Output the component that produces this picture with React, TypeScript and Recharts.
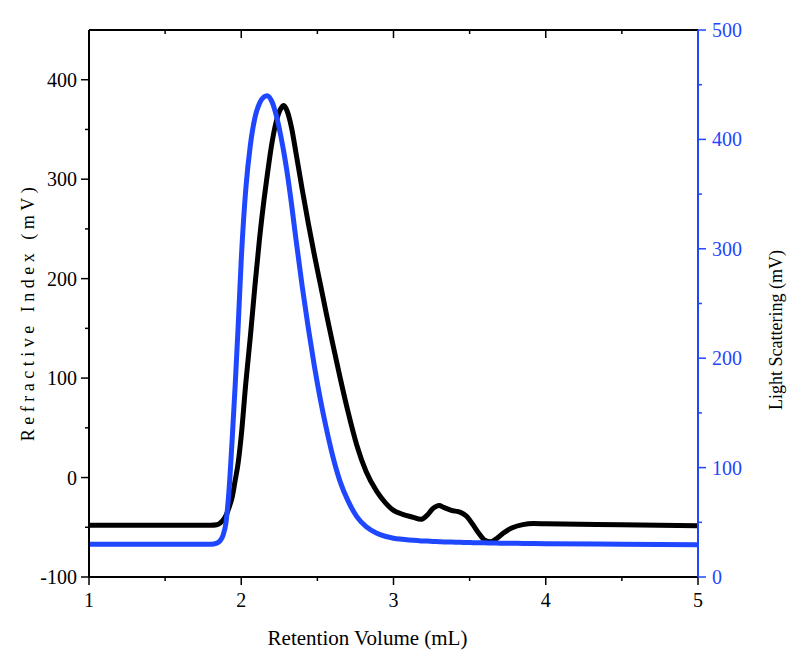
import React from "react";
import { LineChart, Line, XAxis, YAxis, Label } from "recharts";

const volume = [1.0, 1.5, 1.8, 1.84, 1.86, 1.88, 1.9, 1.92, 1.94, 1.96, 1.98, 2.0, 2.03, 2.06, 2.09, 2.12, 2.15, 2.17, 2.2, 2.23, 2.26, 2.28, 2.3, 2.33, 2.36, 2.4, 2.44, 2.48, 2.52, 2.56, 2.6, 2.65, 2.7, 2.76, 2.82, 2.89, 2.95, 3.0, 3.06, 3.13, 3.18, 3.22, 3.26, 3.3, 3.33, 3.38, 3.44, 3.48, 3.52, 3.56, 3.6, 3.64, 3.68, 3.72, 3.78, 3.85, 3.92, 4.0, 4.5, 5.0];

const refractiveIndex = [-48, -48, -48, -47.5, -46, -43, -38, -30, -20, -3, 15, 42, 95, 142, 193, 240, 280, 303, 335, 358, 371, 374, 369, 352, 326, 290, 256, 224, 194, 164, 135, 100, 67, 32, 6, -14, -26, -33, -37, -40, -42, -38, -31, -28, -30, -33, -35, -39, -47, -56, -63, -64.5, -61, -56, -50.5, -47.3, -46.3, -46.5, -47.5, -48.5];

const lightScattering = [30, 30, 30, 31, 33, 38, 50, 80, 125, 175, 230, 290, 355, 395, 420, 433, 439, 440, 435, 422, 403, 388, 371, 341, 308, 266, 228, 193, 162, 135, 111, 87, 70, 55, 46, 40, 37, 35.5, 34.5, 33.5, 33, 32.8, 32.5, 32.3, 32.1, 31.9, 31.7, 31.5, 31.4, 31.3, 31.2, 31.1, 31, 30.9, 30.8, 30.7, 30.6, 30.5, 30, 29.5];

const xTicks = [1, 1.5, 2, 2.5, 3, 3.5, 4, 4.5, 5];
const riTicks = [-100, -50, 0, 50, 100, 150, 200, 250, 300, 350, 400];
const lsTicks = [0, 50, 100, 150, 200, 250, 300, 350, 400, 450, 500];

const data = volume.map((v, i) => ({ v, ri: refractiveIndex[i], ls: lightScattering[i] }));

const BLUE = "#1F47FF";
const FONT = "'Liberation Serif', 'Times New Roman', Times, serif";
const txt = (size: number, extra: any = {}) => ({ fontFamily: FONT, fontSize: size, ...extra });

const BottomTick = (props: any) => {
  const { x, y, payload } = props;
  const major = Number.isInteger(payload.value);
  return (
    <g>
      <line x1={x} y1={y} x2={x} y2={y + (major ? 8 : 4)} stroke="#000" strokeWidth={1.5} />
      {major && (
        <text x={x} y={y + 30} textAnchor="middle" style={txt(20)} fill="#000">
          {payload.value}
        </text>
      )}
    </g>
  );
};

const TopTick = (props: any) => {
  const { x, y, payload } = props;
  const major = Number.isInteger(payload.value);
  if (payload.value === 1 || payload.value === 5) return <g />;
  return <line x1={x} y1={y} x2={x} y2={y + (major ? 8 : 4)} stroke="#000" strokeWidth={1.5} />;
};

const LeftTick = (props: any) => {
  const { x, y, payload } = props;
  const major = payload.value % 100 === 0;
  return (
    <g>
      <line x1={x} y1={y} x2={x - (major ? 8 : 4)} y2={y} stroke="#000" strokeWidth={1.5} />
      {major && (
        <text x={x - 12} y={y + 7} textAnchor="end" style={txt(20)} fill="#000">
          {payload.value}
        </text>
      )}
    </g>
  );
};

const RightTick = (props: any) => {
  const { x, y, payload } = props;
  const major = payload.value % 100 === 0;
  return (
    <g>
      <line x1={x} y1={y} x2={x + (major ? 8 : 4)} y2={y} stroke={BLUE} strokeWidth={1.5} />
      {major && (
        <text x={x + 14} y={y + 7} textAnchor="start" style={txt(20)} fill={BLUE}>
          {payload.value}
        </text>
      )}
    </g>
  );
};

export default function App() {
  return (
    <div style={{ position: "absolute", left: 0, top: 0, width: 805, height: 662, background: "#fff", fontFamily: FONT }}>
      <LineChart width={805} height={662} data={data} margin={{ top: 29, right: 47, left: 29, bottom: 25 }} style={{ fontFamily: FONT }}>
        <XAxis
          xAxisId="bottom"
          dataKey="v"
          type="number"
          domain={[1, 5]}
          ticks={xTicks}
          interval={0}
          height={60}
          tickSize={0}
          tickMargin={0}
          tickLine={false}
          tick={<BottomTick />}
          axisLine={{ stroke: "#000", strokeWidth: 2 }}
        >
          <Label
            content={(p: any) => {
              const vb = p.viewBox;
              return (
                <text x={vb.x + vb.width / 2 - 26} y={vb.y + 68} textAnchor="middle" style={txt(21)} fill="#000">
                  Retention Volume (mL)
                </text>
              );
            }}
          />
        </XAxis>
        <XAxis
          xAxisId="top"
          orientation="top"
          dataKey="v"
          type="number"
          domain={[1, 5]}
          ticks={xTicks}
          interval={0}
          height={1}
          tickSize={0}
          tickMargin={0}
          tickLine={false}
          tick={<TopTick />}
          axisLine={{ stroke: "#000", strokeWidth: 2 }}
        />
        <YAxis
          yAxisId="left"
          type="number"
          domain={[-100, 450]}
          ticks={riTicks}
          interval={0}
          width={60}
          tickSize={0}
          tickMargin={0}
          tickLine={false}
          tick={<LeftTick />}
          axisLine={{ stroke: "#000", strokeWidth: 2 }}
          allowDataOverflow
        >
          <Label
            content={() => (
              <text
                x={0}
                y={0}
                transform="translate(34 312) rotate(-90)"
                textAnchor="middle"
                style={txt(18, { letterSpacing: "4.5px" })}
                fill="#000"
              >
                Refractive Index (mV)
              </text>
            )}
          />
        </YAxis>
        <YAxis
          yAxisId="right"
          orientation="right"
          type="number"
          domain={[0, 500]}
          ticks={lsTicks}
          interval={0}
          width={60}
          tickSize={0}
          tickMargin={0}
          tickLine={false}
          tick={<RightTick />}
          axisLine={{ stroke: BLUE, strokeWidth: 2 }}
          allowDataOverflow
        >
          <Label
            content={() => (
              <text
                x={0}
                y={0}
                transform="translate(782 330) rotate(-90)"
                textAnchor="middle"
                style={txt(18)}
                fill="#000"
              >
                Light Scattering (mV)
              </text>
            )}
          />
        </YAxis>
        <Line
          xAxisId="bottom"
          yAxisId="left"
          type="monotone"
          dataKey="ri"
          stroke="#000"
          strokeWidth={5}
          dot={false}
          isAnimationActive={false}
        />
        <Line
          xAxisId="bottom"
          yAxisId="right"
          type="monotone"
          dataKey="ls"
          stroke={BLUE}
          strokeWidth={5}
          dot={false}
          isAnimationActive={false}
        />
      </LineChart>
    </div>
  );
}
